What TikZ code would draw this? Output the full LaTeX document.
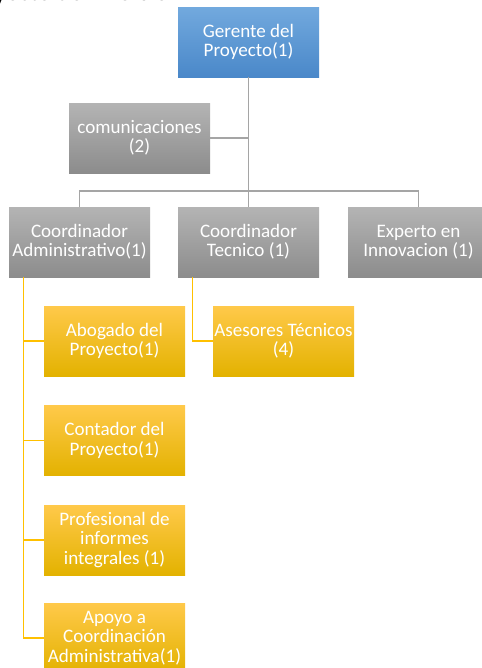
\documentclass[tikz,border=0pt]{standalone}
\usepackage{fontspec}
\setmainfont{Carlito}
\definecolor{gtop}{HTML}{B4B4B4}
\definecolor{gbot}{HTML}{8C8C8C}
\definecolor{btop}{HTML}{72A9DE}
\definecolor{bbot}{HTML}{4A88C9}
\definecolor{ytop}{HTML}{FFC94A}
\definecolor{ymid}{HTML}{FFC000}
\definecolor{ybot}{HTML}{E3B200}
\definecolor{gline}{HTML}{A5A5A5}
\definecolor{yline}{HTML}{FFC000}
\begin{document}
\begin{tikzpicture}[x=0.75pt,y=-0.75pt,
  box/.style={minimum width=105.75pt, minimum height=52.5pt, inner sep=0pt, align=center,
    text=white, font=\fontsize{14.3}{14.4}\selectfont},
  graybox/.style={box, top color=gtop, bottom color=gbot},
  bluebox/.style={box, top color=btop, bottom color=bbot},
  yellowbox/.style={box, top color=ytop, middle color=ymid, bottom color=ybot},
  glink/.style={draw=gline, line width=1.1pt},
  ylink/.style={draw=yline, line width=0.9pt}]
\useasboundingbox (0,0) rectangle (482,668);
\clip (0,0) rectangle (482,668);

\node[anchor=base east, inner sep=0pt, font=\fontsize{19}{22}\selectfont] (title) at (182,0.8) {Proyecto de inversion};

\node[bluebox] (G) at (248.5,42) {Gerente del\\Proyecto(1)};
\node[graybox] (com) at (139.5,138) {comunicaciones\\(2)};
\node[graybox] (CA) at (79.5,242) {Coordinador\\Administrativo(1)};
\node[graybox] (CT) at (248.5,242) {Coordinador\\Tecnico (1)};
\node[graybox] (EX) at (418.5,242) {Experto en\\Innovacion (1)};
\node[yellowbox] (AB) at (114.5,341) {Abogado del\\Proyecto(1)};
\node[yellowbox] (AS) at (283.5,341) {Asesores Técnicos\\(4)};
\node[yellowbox] (CO) at (114.5,440.5) {Contador del\\Proyecto(1)};
\node[yellowbox] (PR) at (114.5,540) {Profesional de\\informes\\integrales (1)};
\node[yellowbox] (AP) at (114.5,638) {Apoyo a\\Coordinación\\Administrativa(1)};

\coordinate (bus) at (248.5,191);
\draw[glink] (G.south) -- (CT.north);
\draw[glink] (com.east) -- (G.south |- com.east);
\draw[glink] (CA.north) |- (bus) -| (EX.north);

\coordinate (ya) at ([xshift=10.9pt]CA.south west);
\coordinate (yt) at ([xshift=10.9pt]CT.south west);
\draw[ylink] (ya) |- (AB.west);
\draw[ylink] (ya) |- (CO.west);
\draw[ylink] (ya) |- (PR.west);
\draw[ylink] (ya) |- (AP.west);
\draw[ylink] (yt) |- (AS.west);
\end{tikzpicture}
\end{document}
